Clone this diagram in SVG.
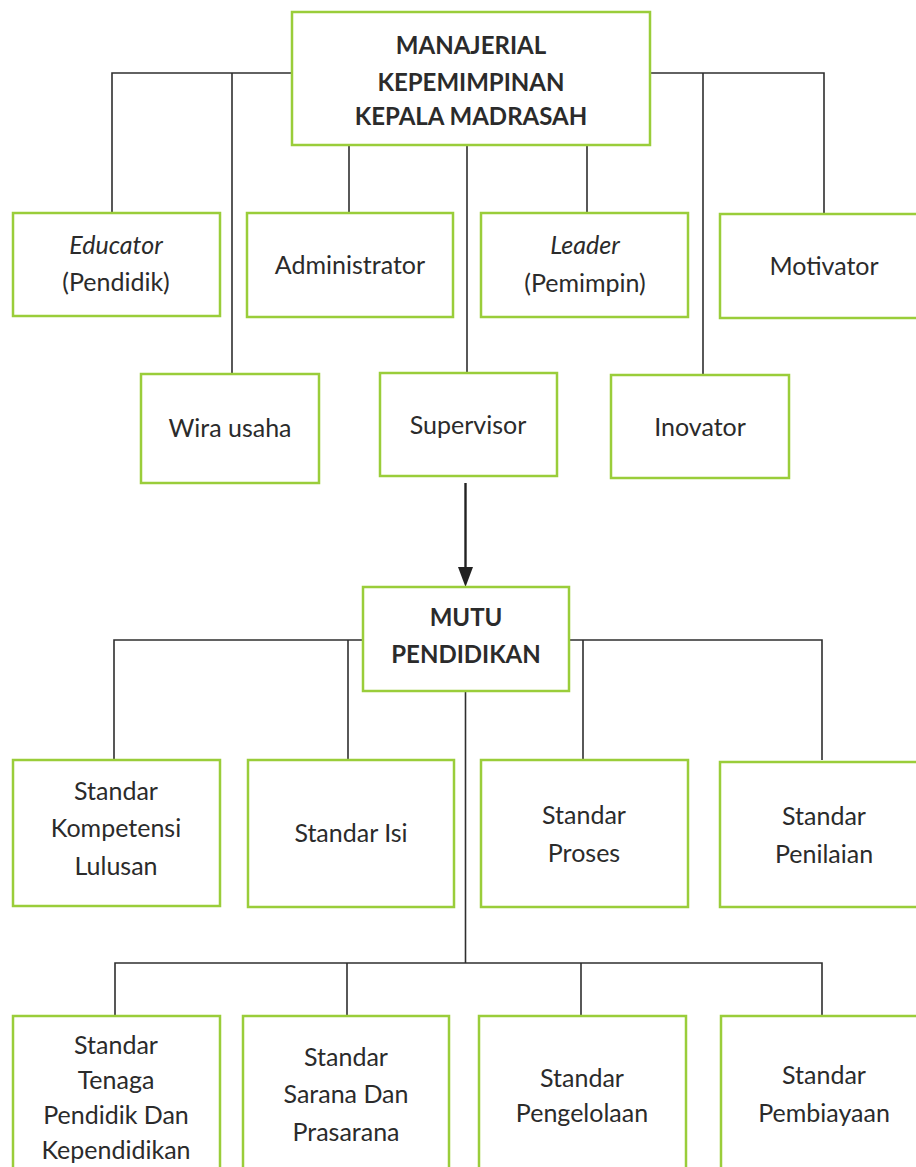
<svg xmlns="http://www.w3.org/2000/svg" width="916" height="1167" viewBox="0 0 916 1167">
<defs>
<style>
.box{fill:#fff;stroke:#9acd3a;stroke-width:2.5}
.ln{fill:none;stroke:#2f2f2f;stroke-width:1.6}
.t{font-family:Lato,"Open Sans","Liberation Sans",sans-serif;font-size:25px;fill:#2b2b2b;text-anchor:middle}
.b{font-weight:bold;font-size:24px}
.i{font-style:italic}
</style>
</defs>
<rect width="916" height="1167" fill="#fff"/>
<g id="connectors">
<polyline class="ln" points="292,73 112,73 112,213"/>
<line class="ln" x1="232" y1="73" x2="232" y2="374"/>
<polyline class="ln" points="650,73 824,73 824,214"/>
<line class="ln" x1="703" y1="73" x2="703" y2="375"/>
<line class="ln" x1="349" y1="145" x2="349" y2="213"/>
<line class="ln" x1="467" y1="145" x2="467" y2="373"/>
<line class="ln" x1="587" y1="145" x2="587" y2="213"/>
<line x1="465.5" y1="483" x2="465.5" y2="568" stroke="#222" stroke-width="2.4"/>
<path d="M458,567 L473,567 L465.5,587 Z" fill="#222"/>
<polyline class="ln" points="363,640 114,640 114,760"/>
<line class="ln" x1="348" y1="640" x2="348" y2="760"/>
<polyline class="ln" points="569,640 822,640 822,760"/>
<line class="ln" x1="583" y1="640" x2="583" y2="760"/>
<line class="ln" x1="465.5" y1="691" x2="465.5" y2="963"/>
<polyline class="ln" points="115,1016 115,963 822,963 822,1016"/>
<line class="ln" x1="347" y1="963" x2="347" y2="1016"/>
<line class="ln" x1="581" y1="963" x2="581" y2="1016"/>
</g>
<g id="n-top"><rect class="box" x="292" y="12" width="358" height="133"/>
<text class="t b" x="471" y="54">MANAJERIAL</text>
<text class="t b" x="471" y="91">KEPEMIMPINAN</text>
<text class="t b" x="471" y="125">KEPALA MADRASAH</text></g>
<g id="n-educator"><rect class="box" x="13" y="213" width="207" height="103"/>
<text class="t i" x="116" y="254">Educator</text>
<text class="t" x="116" y="291">(Pendidik)</text></g>
<g id="n-admin"><rect class="box" x="247" y="213" width="206" height="104"/>
<text class="t" x="350" y="274">Administrator</text></g>
<g id="n-leader"><rect class="box" x="481" y="213" width="207" height="104"/>
<text class="t i" x="585" y="254">Leader</text>
<text class="t" x="585" y="292">(Pemimpin)</text></g>
<g id="n-motivator"><rect class="box" x="720" y="214" width="210" height="104"/>
<text class="t" x="824" y="275">Motivator</text></g>
<g id="n-wira"><rect class="box" x="141" y="374" width="178" height="109"/>
<text class="t" x="230" y="437">Wira usaha</text></g>
<g id="n-supervisor"><rect class="box" x="380" y="373" width="177" height="103"/>
<text class="t" x="468" y="434">Supervisor</text></g>
<g id="n-inovator"><rect class="box" x="611" y="375" width="178" height="103"/>
<text class="t" x="700" y="436">Inovator</text></g>
<g id="n-mutu"><rect class="box" x="363" y="587" width="206" height="104"/>
<text class="t b" x="466" y="626">MUTU</text>
<text class="t b" x="466" y="663">PENDIDIKAN</text></g>
<g id="n-skl"><rect class="box" x="13" y="760" width="207" height="146"/>
<text class="t" x="116" y="800">Standar</text>
<text class="t" x="116" y="837">Kompetensi</text>
<text class="t" x="116" y="875">Lulusan</text></g>
<g id="n-isi"><rect class="box" x="248" y="760" width="206" height="147"/>
<text class="t" x="351" y="842">Standar Isi</text></g>
<g id="n-proses"><rect class="box" x="481" y="760" width="207" height="147"/>
<text class="t" x="584" y="824">Standar</text>
<text class="t" x="584" y="862">Proses</text></g>
<g id="n-penilaian"><rect class="box" x="720" y="762" width="210" height="145"/>
<text class="t" x="824" y="825">Standar</text>
<text class="t" x="824" y="863">Penilaian</text></g>
<g id="n-tenaga"><rect class="box" x="13" y="1016" width="207" height="170"/>
<text class="t" x="116" y="1054">Standar</text>
<text class="t" x="116" y="1089">Tenaga</text>
<text class="t" x="116" y="1124">Pendidik Dan</text>
<text class="t" x="116" y="1159">Kependidikan</text></g>
<g id="n-sarana"><rect class="box" x="243" y="1016" width="206" height="170"/>
<text class="t" x="346" y="1066">Standar</text>
<text class="t" x="346" y="1103">Sarana Dan</text>
<text class="t" x="346" y="1141">Prasarana</text></g>
<g id="n-pengelolaan"><rect class="box" x="479" y="1016" width="207" height="170"/>
<text class="t" x="582" y="1087">Standar</text>
<text class="t" x="582" y="1122">Pengelolaan</text></g>
<g id="n-pembiayaan"><rect class="box" x="721" y="1016" width="210" height="170"/>
<text class="t" x="824" y="1084">Standar</text>
<text class="t" x="824" y="1122">Pembiayaan</text></g>
</svg>
